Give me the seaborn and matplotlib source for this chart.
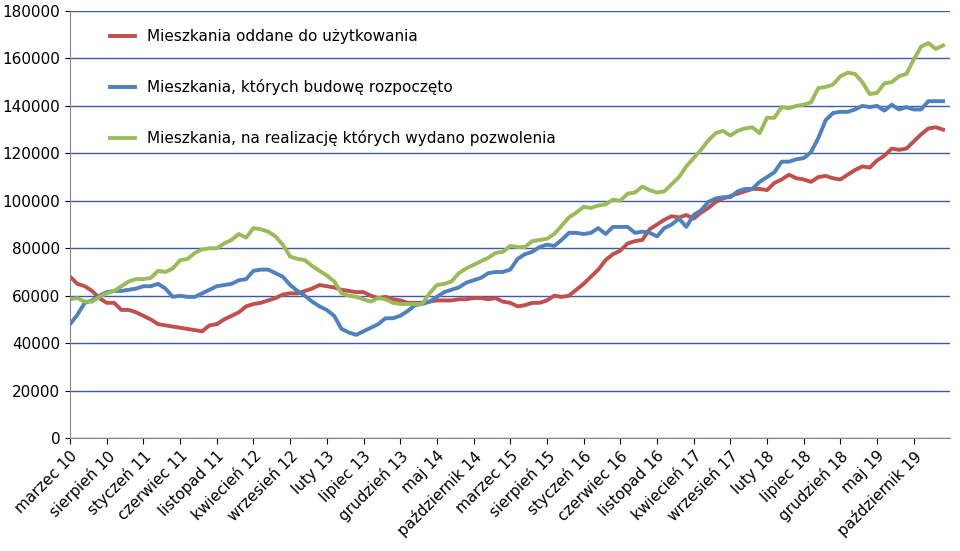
import pandas as pd
import numpy as np
import matplotlib
matplotlib.use("Agg")
import matplotlib.pyplot as plt
import seaborn as sns

# dane miesięczne od marca 2010
oddane = [68000, 65000, 64000, 62000, 59000, 57000, 57000, 54000, 54000, 53000,
          51500, 50000, 48000, 47500, 47000, 46500, 46000, 45500, 45000, 47500,
          48000, 50000, 51500, 53000, 55500, 56500, 57000, 58000, 59000, 60500,
          61000, 61000, 62000, 63000, 64500, 64000, 63500, 62500, 62000, 61500,
          61500, 60000, 59000, 59500, 58500, 58000, 57000, 57000, 57000, 57500,
          58000, 58000, 58000, 58500, 58500, 59000, 59000, 58500, 59000, 57500,
          57000, 55500, 56000, 57000, 57000, 58000, 60000, 59500, 60000, 62500,
          65000, 68000, 71000, 75000, 77500, 79000, 82000, 83000, 83500, 88000,
          90000, 92000, 93500, 93000, 94000, 92500, 95000, 97000, 99500, 101000,
          102000, 103000, 104000, 105000, 105000, 104500, 107500, 109000, 111000, 109500,
          109000, 108000, 110000, 110500, 109500, 109000, 111000, 113000, 114500, 114000,
          117000, 119000, 122000, 121500, 122000, 125000, 128000, 130500, 131000, 130000]
rozpoczete = [48000, 52000, 57000, 58000, 60000, 61500, 62000, 62000, 62500, 63000,
              64000, 64000, 65000, 63000, 59500, 60000, 59500, 59500, 61000, 62500,
              64000, 64500, 65000, 66500, 67000, 70500, 71000, 71000, 69500, 68000,
              64500, 62000, 60000, 57500, 55500, 54000, 51500, 46000, 44500, 43500,
              45000, 46500, 48000, 50500, 50500, 51500, 53500, 56000, 56500, 57500,
              59500, 61500, 62500, 63500, 65500, 66500, 67500, 69500, 70000, 70000,
              71000, 75500, 77500, 78500, 80500, 81500, 81000, 83500, 86500, 86500,
              86000, 86500, 88500, 86000, 89000, 89000, 89000, 86500, 87000, 86500,
              85000, 88500, 90000, 92500, 89000, 94000, 96000, 99500, 101000, 101500,
              101500, 104000, 105000, 105000, 108000, 110000, 112000, 116500, 116500, 117500,
              118000, 120500, 126500, 134000, 137000, 137500, 137500, 138500, 140000, 139500,
              140000, 138000, 140500, 138500, 139500, 138500, 138500, 142000, 142000, 142000]
pozwolenia = [58500, 59000, 57500, 57500, 59500, 61000, 62000, 64000, 66000, 67000,
              67000, 67500, 70500, 70000, 71500, 75000, 75500, 78000, 79500, 80000,
              80000, 82000, 83500, 86000, 84500, 88500, 88000, 87000, 85000, 81500,
              76500, 75500, 75000, 72500, 70500, 68500, 66000, 61000, 60000, 59500,
              58500, 57500, 59000, 58500, 57000, 56500, 56500, 56500, 56500, 61000,
              64500, 65000, 66000, 69500, 71500, 73000, 74500, 76000, 78000, 78500,
              81000, 80500, 80500, 83000, 83500, 84000, 86000, 89500, 93000, 95000,
              97500, 97000, 98000, 98500, 100500, 100000, 103000, 103500, 106000, 104500,
              103500, 104000, 107000, 110000, 114500, 118000, 121500, 125500, 128500, 129500,
              127500, 129500, 130500, 131000, 128500, 135000, 135000, 139500, 139000, 140000,
              140500, 141500, 147500, 148000, 149000, 152500, 154000, 153500, 150000, 145000,
              145500, 149500, 150000, 152500, 153500, 159500, 165000, 166500, 164000, 165500]

nazwy = ["Mieszkania oddane do użytkowania",
         "Mieszkania, których budowę rozpoczęto",
         "Mieszkania, na realizację których wydano pozwolenia"]
kolory = ["#C0504D", "#4F81BD", "#9BBB59"]
miesiace = ["styczeń", "luty", "marzec", "kwiecień", "maj", "czerwiec", "lipiec",
            "sierpień", "wrzesień", "październik", "listopad", "grudzień"]

n = len(oddane)
daty = pd.date_range("2010-03-01", periods=n, freq="MS")
df = pd.DataFrame({"idx": np.arange(n), nazwy[0]: oddane,
                   nazwy[1]: rozpoczete, nazwy[2]: pozwolenia})
long = df.melt(id_vars="idx", var_name="seria", value_name="wartosc")

fig, ax = plt.subplots(figsize=(9.6, 5.51), dpi=100)
fig.subplots_adjust(left=0.073, right=0.99, top=0.98, bottom=0.205)
sns.lineplot(data=long, x="idx", y="wartosc", hue="seria", hue_order=nazwy,
             palette=kolory, linewidth=2.8, ax=ax)

ax.set_xlim(0, n)
ax.set_ylim(0, 180000)
ax.set_yticks(range(0, 180001, 20000))
ax.yaxis.grid(True, color="#3A5BA8", linewidth=1)
ax.set_axisbelow(True)
ticks = list(range(0, n, 5))
ax.set_xticks(ticks)
ax.set_xticklabels([f"{miesiace[daty[i].month - 1]} {daty[i].year % 100:02d}" for i in ticks],
                   rotation=45, ha="right", rotation_mode="anchor", fontsize=11)
ax.tick_params(axis="y", labelsize=11)
ax.tick_params(axis="x", length=4)
ax.set_xlabel("")
ax.set_ylabel("")
for s in ["top", "right"]:
    ax.spines[s].set_visible(False)
ax.spines["left"].set_color("#888888")
ax.spines["bottom"].set_color("#888888")

ax.legend(loc="upper left", bbox_to_anchor=(0.03, 0.99), frameon=False,
          fontsize=11, labelspacing=2.3, handlelength=1.6)

fig.savefig("out.png")
